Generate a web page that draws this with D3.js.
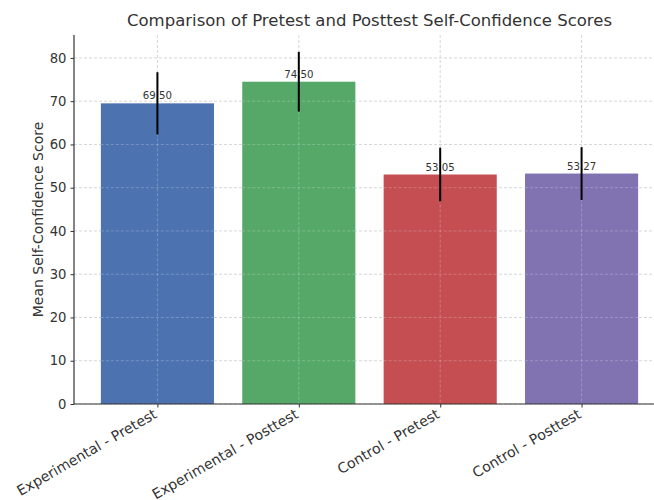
<!DOCTYPE html>
<html><head><meta charset="utf-8">
<script src="https://cdn.jsdelivr.net/npm/d3@7"></script>
<style>body{margin:0;background:#fff}svg{display:block;font-family:"DejaVu Sans",sans-serif}</style>
</head><body><svg id="c" width="654" height="500"></svg>
<script>
const categories = ["Experimental - Pretest","Experimental - Posttest","Control - Pretest","Control - Posttest"];
const means = [69.50, 74.50, 53.05, 53.27];
const errors = [7.2, 6.9, 6.2, 6.1];
const colors = ["#4c72b0","#55a868","#c44e52","#8172b2"];
const yTicks = [0,10,20,30,40,50,60,70,80];

const svg = d3.select("#c");
const L = 74, R = 665, T = 35, B = 404;
const x = d3.scaleLinear().domain([-0.59, 3.59]).range([L, R]);
const y = d3.scaleLinear().domain([0, 85.3]).range([B, T]);
const bw = x(0.4) - x(-0.4);

// grid
const g = svg.append("g");
g.selectAll(".gy").data(yTicks).join("line")
  .attr("x1", L).attr("x2", R).attr("y1", d=>y(d)).attr("y2", d=>y(d))
  .attr("stroke","#cccccc").attr("stroke-width",0.8).attr("stroke-dasharray","3,2");
g.selectAll(".gx").data(categories).join("line")
  .attr("x1",(d,i)=>x(i)).attr("x2",(d,i)=>x(i)).attr("y1",T).attr("y2",B)
  .attr("stroke","#cccccc").attr("stroke-width",0.8).attr("stroke-dasharray","3,2");

// bars
svg.selectAll(".bar").data(means).join("rect")
  .attr("x",(d,i)=>x(i)-bw/2).attr("width",bw)
  .attr("y",d=>y(d)).attr("height",d=>B-y(d))
  .attr("fill",(d,i)=>colors[i]);

// faint grid visible over bars
svg.selectAll(".gx2").data(categories).join("line")
  .attr("x1",(d,i)=>x(i)).attr("x2",(d,i)=>x(i)).attr("y1",(d,i)=>y(means[i])).attr("y2",B)
  .attr("stroke","#ffffff").attr("stroke-opacity",0.3).attr("stroke-width",0.8).attr("stroke-dasharray","3,2");
svg.selectAll(".gy2").data(yTicks.slice(1)).join("g").each(function(t){
  const sel = d3.select(this);
  means.forEach((m,i)=>{ if (t < m) sel.append("line")
    .attr("x1",x(i)-bw/2).attr("x2",x(i)+bw/2).attr("y1",y(t)).attr("y2",y(t))
    .attr("stroke","#ffffff").attr("stroke-opacity",0.3).attr("stroke-width",0.8).attr("stroke-dasharray","3,2"); });
});

// value labels
svg.selectAll(".vl").data(means).join("text")
  .attr("x",(d,i)=>x(i)).attr("y",d=>y(d)-4)
  .attr("text-anchor","middle").attr("font-size",10.2).attr("fill","#333")
  .text(d=>d.toFixed(2));

// error bars
svg.selectAll(".eb").data(means).join("line")
  .attr("x1",(d,i)=>x(i)).attr("x2",(d,i)=>x(i))
  .attr("y1",(d,i)=>y(d+errors[i])).attr("y2",(d,i)=>y(d-errors[i]))
  .attr("stroke","#000").attr("stroke-width",2);

// axes
const ya = svg.append("g").attr("transform",`translate(${L},0)`)
  .call(d3.axisLeft(y).tickValues(yTicks).tickSize(3.5).tickPadding(4).tickFormat(d3.format("d")));
ya.select(".domain").remove();
ya.selectAll("text").attr("font-size",13.2).attr("fill","#333").attr("font-family","DejaVu Sans");
ya.selectAll(".tick line").attr("stroke","#333");

const xa = svg.append("g").attr("transform",`translate(0,${B})`)
  .call(d3.axisBottom(x).tickValues([0,1,2,3]).tickSize(3.5).tickFormat(i=>categories[i]));
xa.select(".domain").remove();
xa.selectAll(".tick line").attr("stroke","#333");
xa.selectAll("text").attr("font-size",14.2).attr("fill","#333").attr("font-family","DejaVu Sans")
  .attr("text-anchor","end").attr("dy",0).attr("y",0)
  .attr("transform","translate(0,13) rotate(-30)");

svg.append("line").attr("x1",L).attr("x2",L).attr("y1",T).attr("y2",B).attr("stroke","#333").attr("stroke-width",1.2);
svg.append("line").attr("x1",L).attr("x2",R).attr("y1",B).attr("y2",B).attr("stroke","#333").attr("stroke-width",1.2);

svg.append("text").attr("x",(L+R)/2).attr("y",26).attr("text-anchor","middle")
  .attr("font-size",16.5).attr("fill","#333").text("Comparison of Pretest and Posttest Self-Confidence Scores");
svg.append("text").attr("transform",`translate(43,${(T+B)/2}) rotate(-90)`).attr("text-anchor","middle")
  .attr("font-size",14).attr("fill","#333").text("Mean Self-Confidence Score");
</script></body></html>
